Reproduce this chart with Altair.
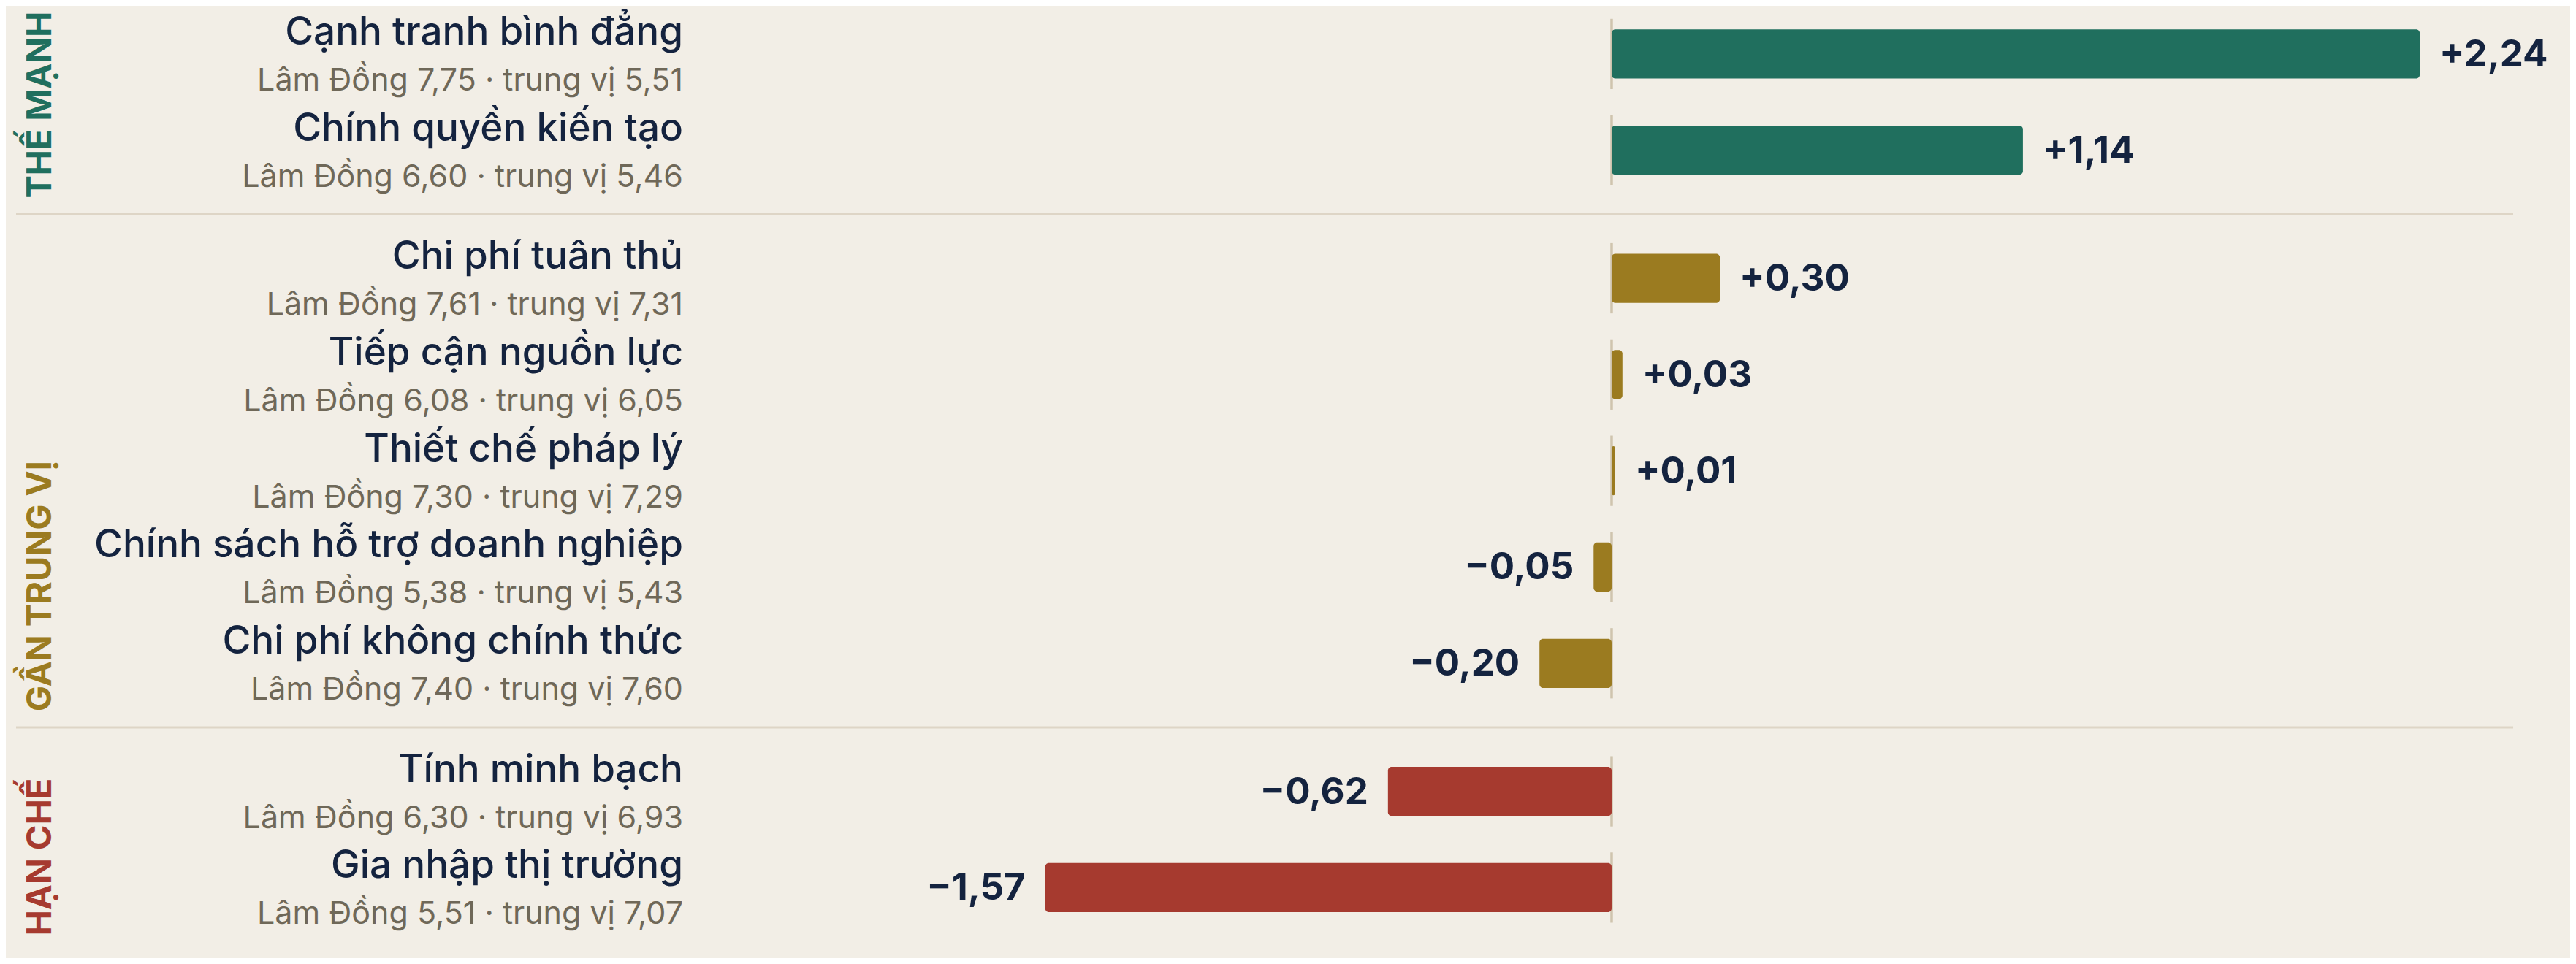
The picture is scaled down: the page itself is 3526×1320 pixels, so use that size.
import altair as alt
import pandas as pd

# ---- data ----
names = ["Cạnh tranh bình đẳng", "Chính quyền kiến tạo", "Chi phí tuân thủ",
         "Tiếp cận nguồn lực", "Thiết chế pháp lý", "Chính sách hỗ trợ doanh nghiệp",
         "Chi phí không chính thức", "Tính minh bạch", "Gia nhập thị trường"]
lamdong = [7.75, 6.60, 7.61, 6.08, 7.30, 5.38, 7.40, 6.30, 5.51]
median = [5.51, 5.46, 7.31, 6.05, 7.29, 5.43, 7.60, 6.93, 7.07]
diffs = [2.24, 1.14, 0.30, 0.03, 0.01, -0.05, -0.20, -0.62, -1.57]
groups = ["THẾ MẠNH"] * 2 + ["GẦN TRUNG VỊ"] * 5 + ["HẠN CHẾ"] * 2
group_order = ["THẾ MẠNH", "GẦN TRUNG VỊ", "HẠN CHẾ"]
group_colors = ["#206F5E", "#9B7B20", "#A63A2F"]

BG = "#F2EEE6"
NAVY = "#14233F"
GREY = "#6F6858"
FONT = "Inter"

GAP = 0.33  # extra slot spacing between groups


def vn(v, signed=False):
    s = f"{abs(v):.2f}".replace(".", ",")
    if signed:
        return ("+" if v >= 0 else "\u2212") + s
    return s


rows = []
for i, (n, a, m, d, g) in enumerate(zip(names, lamdong, median, diffs, groups)):
    gi = group_order.index(g)
    slot = i + gi * GAP
    rows.append({
        "name": n,
        "sub": f"Lâm Đồng {vn(a)} · trung vị {vn(m)}",
        "diff": d,
        "label": vn(d, True),
        "group": g,
        "slot": slot,
        "b0": slot - 0.255,
        "b1": slot + 0.255,
        "r0": slot - 0.365,
        "r1": slot + 0.365,
        "zero": 0.0,
        "pos": d >= 0,
    })
df = pd.DataFrame(rows)

# group label anchors and separators
glab = []
for g in group_order:
    sub = df[df.group == g]
    glab.append({"group": g, "y": sub.slot.max() + 0.5})
glab = pd.DataFrame(glab)

seps = []
for k in range(len(group_order) - 1):
    a = df[df.group == group_order[k]].slot.max()
    b = df[df.group == group_order[k + 1]].slot.min()
    seps.append({"y": (a + b) / 2})
seps = pd.DataFrame(seps)

W, H = 3510, 1304
xscale = alt.Scale(domain=[-4.4512, 2.6570], nice=False, zero=False)
yscale = alt.Scale(domain=[-0.5, 9.393], nice=False, zero=False, reverse=True)
cscale = alt.Scale(domain=group_order, range=group_colors)

base = alt.Chart(df)

sep_layer = alt.Chart(seps).mark_rule(color="#DED5C6", strokeWidth=3).encode(
    y=alt.Y("y:Q", scale=yscale, axis=None),
    x=alt.value(14), x2=alt.value(3432),
)

zero_layer = base.mark_rule(color="#CFC4AE", strokeWidth=3.5).encode(
    x=alt.X("zero:Q", scale=xscale, axis=None),
    y=alt.Y("r0:Q", scale=yscale, axis=None),
    y2="r1:Q",
)

bars = base.mark_bar(cornerRadius=5).encode(
    x=alt.X("diff:Q", scale=xscale, axis=None),
    x2="zero:Q",
    y=alt.Y("b0:Q", scale=yscale, axis=None),
    y2="b1:Q",
    color=alt.Color("group:N", scale=cscale, legend=None),
)

val_pos = base.transform_filter("datum.pos").mark_text(
    align="left", baseline="middle", dx=27, dy=2, font=FONT, fontSize=51,
    fontWeight="bold", color=NAVY,
).encode(
    x=alt.X("diff:Q", scale=xscale, axis=None),
    y=alt.Y("slot:Q", scale=yscale, axis=None),
    text="label:N",
)

val_neg = base.transform_filter("!datum.pos").mark_text(
    align="right", baseline="middle", dx=-27, dy=2, font=FONT, fontSize=51,
    fontWeight="bold", color=NAVY,
).encode(
    x=alt.X("diff:Q", scale=xscale, axis=None),
    y=alt.Y("slot:Q", scale=yscale, axis=None),
    text="label:N",
)

name_layer = base.mark_text(
    align="right", baseline="alphabetic", dy=-13, font=FONT, fontSize=53,
    fontWeight=500, color=NAVY,
).encode(
    x=alt.value(927),
    y=alt.Y("slot:Q", scale=yscale, axis=None),
    text="name:N",
)

sub_layer = base.mark_text(
    align="right", baseline="alphabetic", dy=50, font=FONT, fontSize=43,
    fontWeight=400, color=GREY,
).encode(
    x=alt.value(927),
    y=alt.Y("slot:Q", scale=yscale, axis=None),
    text="sub:N",
)

group_layer = alt.Chart(glab).mark_text(
    align="left", baseline="middle", angle=270, font=FONT, fontSize=47,
    fontWeight="bold",
).encode(
    x=alt.value(48),
    y=alt.Y("y:Q", scale=yscale, axis=None),
    text="group:N",
    color=alt.Color("group:N", scale=cscale, legend=None),
)

chart = alt.layer(
    sep_layer, zero_layer, bars, val_pos, val_neg, name_layer, sub_layer, group_layer
).properties(
    width=W, height=H, padding=0, background=BG,
).configure_view(stroke=None)

chart.save("out.html", embed_options={"renderer": "svg", "actions": False})
